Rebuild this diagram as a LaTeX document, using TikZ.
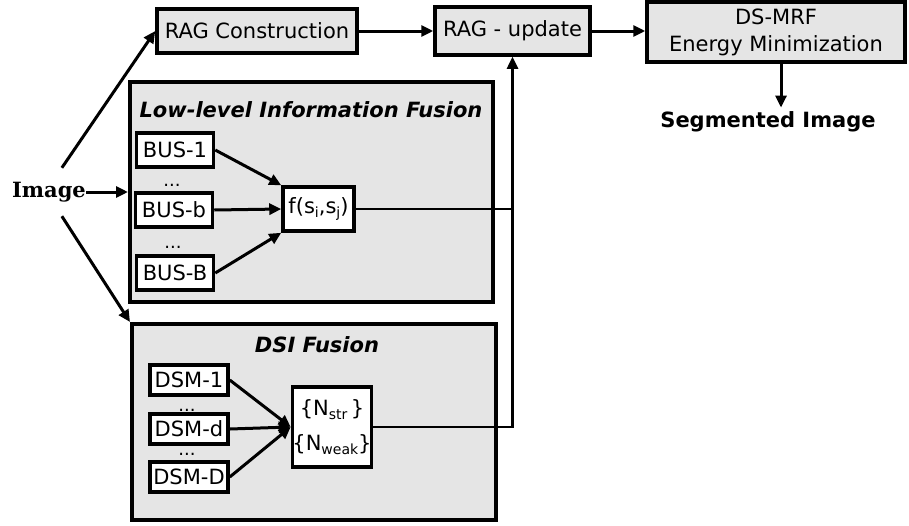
\documentclass[tikz,border=0pt]{standalone}
\usepackage{fontspec}
\setmainfont{DejaVu Sans}
\newfontfamily\serifbold{DejaVu Serif}
\usetikzlibrary{arrows.meta}
% lowered small text used as a subscript inside the boxes
\newcommand{\lowsub}[1]{\raisebox{-.4ex}{\fontsize{14}{14}\selectfont #1}}
\begin{document}
\begin{tikzpicture}[x=1pt,y=-1pt,
  every node/.style={font=\fontsize{21}{25}\selectfont, inner sep=0pt},
  stage/.style={draw, line width=3.5pt, fill=gray!20, align=center},
  unit/.style={draw, line width=3.5pt, fill=white, align=center},
  panel/.style={draw, line width=4pt, fill=gray!20},
  paneltitle/.style={font=\fontsize{21}{25}\selectfont\bfseries\itshape},
  flow/.style={line width=3pt, -{Triangle[length=12pt,width=11pt]}},
  link/.style={line width=2.5pt},
  dots/.style={font=\fontsize{18}{18}\selectfont}]
\useasboundingbox (0,0) rectangle (909,525);

% top pipeline
\node[stage, minimum width=200pt, minimum height=44pt] (rc) at (257,31) {RAG Construction};
\node[stage, minimum width=155pt, minimum height=48pt] (upd) at (512.5,31) {RAG - update};
\node[stage, minimum width=258pt, minimum height=60pt, font=\fontsize{21}{27}\selectfont] (mrf) at (776,32) {DS-MRF\\Energy Minimization};
\node[font=\fontsize{21}{25}\selectfont\bfseries, inner sep=4pt] (seg) at (768,122) {Segmented Image};

% input
\node[font=\fontsize{21}{25}\serifbold\bfseries, minimum height=48pt] (img) at (49,192) {Image};

% low-level information fusion
\node[panel, minimum width=363pt, minimum height=220pt] (low) at (311.5,192) {};
\node[paneltitle] (lowt) at (311,110) {Low-level Information Fusion};
\node[unit, minimum width=77pt, minimum height=34pt] (bus1) at (175,150) {BUS-1};
\node[dots] (d1) at (172,185) {...};
\node[unit, minimum width=77pt, minimum height=34pt] (busb) at (174,210) {BUS-b};
\node[dots] (d2) at (173,247) {...};
\node[unit, minimum width=77pt, minimum height=34pt] (busB) at (175,273) {BUS-B};
\node[unit, minimum width=71pt, minimum height=44pt] (f) at (318.5,209) {f(s\lowsub{i},s\lowsub{j})};

% DSI fusion
\node[panel, minimum width=364pt, minimum height=196pt] (dsi) at (314,422) {};
\node[paneltitle] (dsit) at (317,345) {DSI Fusion};
\node[unit, minimum width=78pt, minimum height=30pt] (dsm1) at (189,380) {DSM-1};
\node[dots] (d3) at (187,410) {...};
\node[unit, minimum width=78pt, minimum height=30pt] (dsmd) at (189,429) {DSM-d};
\node[dots] (d4) at (187,454) {...};
\node[unit, minimum width=78pt, minimum height=30pt] (dsmD) at (189,477) {DSM-D};
\node[unit, minimum width=74pt, minimum height=80pt, font=\fontsize{21}{35}\selectfont] (nb) at (332,427)
  {\{N\lowsub{str}\,\}\\\{N\lowsub{weak}\}};

% connectors
\draw[flow] (rc.east) -- (rc.east -| upd.west);
\draw[flow] (upd.east) -- (upd.east -| mrf.west);
\draw[flow] ([xshift=5pt]mrf.south) -- ([xshift=5pt]mrf.south |- seg.north);
\draw[flow] (img.62) -- (rc.west);
\draw[flow] (img.east) -- (low.west);
\draw[flow] (img.-62) -- (dsi.north west);
\draw[flow] (bus1.east) -- (f.north west);
\draw[flow] (busb.east) -- (f.west);
\draw[flow] (busB.east) -- (f.south west);
\draw[flow] (dsm1.east) -- (nb.west);
\draw[flow] (dsmd.east) -- (nb.west);
\draw[flow] (dsmD.east) -- (nb.west);
\draw[link] (f.east) -- (f.east -| upd.south);
\draw[link, -{Triangle[length=12pt,width=11pt]}] (nb.east) -| (upd.south);
\end{tikzpicture}
\end{document}
